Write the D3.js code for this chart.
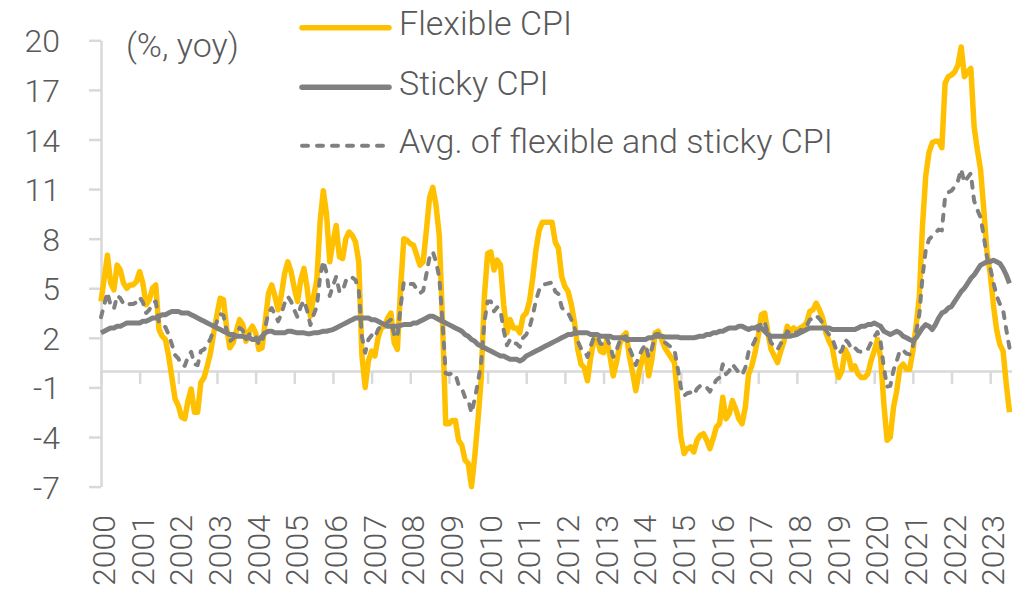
<!DOCTYPE html>
<html>
<head>
<meta charset="utf-8">
<script src="https://cdn.jsdelivr.net/npm/d3@7"></script>
<style>
  html, body { margin: 0; padding: 0; background: #fff; }
  svg { display: block; font-family: Roboto, "Open Sans", sans-serif; font-weight: 300; }
</style>
</head>
<body>
<svg id="chart" width="1012" height="592"></svg>
<script>
// monthly yoy %, Jan 2000 .. Jul 2023
const startYear = 2000;

const flexibleCpi = [
  4.2, 5.6, 7.0, 5.3, 4.9, 6.4, 6.1, 5.3, 5.0, 5.2, 5.2, 5.4,        // 2000
  6.0, 5.3, 4.0, 4.3, 5.0, 5.2, 2.5, 2.1, 1.9, 0.9, -0.4, -1.7,      // 2001
  -2.1, -2.8, -2.9, -1.8, -1.1, -2.5, -2.5, -0.7, -0.4, 0.3, 1.1, 2.3, // 2002
  3.4, 4.4, 4.3, 2.6, 1.4, 1.7, 2.4, 3.1, 2.8, 1.8, 2.4, 2.7,        // 2003
  2.3, 1.3, 1.4, 3.0, 4.7, 5.2, 4.5, 3.7, 4.6, 5.9, 6.6, 6.0,        // 2004
  5.0, 4.2, 5.5, 6.2, 5.0, 3.3, 4.5, 5.5, 9.0, 10.9, 9.5, 6.6,       // 2005
  7.8, 8.8, 6.9, 6.8, 8.0, 8.4, 8.2, 7.8, 6.6, 0.9, -1.0, 0.6,       // 2006
  1.2, 0.9, 2.0, 2.6, 2.7, 3.2, 3.5, 1.7, 1.3, 5.0, 8.0, 7.9,        // 2007
  7.7, 7.6, 7.0, 6.4, 6.6, 8.5, 10.5, 11.1, 10.0, 8.2, 3.0, -3.2,    // 2008
  -3.2, -3.0, -3.0, -4.2, -4.5, -5.4, -5.6, -7.0, -5.2, -3.0, -0.5, 4.5, // 2009
  7.1, 7.2, 6.1, 6.7, 6.4, 4.0, 2.3, 3.1, 2.6, 2.6, 2.3, 3.3,        // 2010
  3.5, 4.2, 5.6, 7.3, 8.5, 9.0, 9.0, 9.0, 9.0, 7.8, 7.4, 5.7,        // 2011
  5.1, 4.8, 4.0, 2.9, 1.3, 0.4, 0.2, -0.6, 0.8, 1.9, 2.0, 1.2,       // 2012
  1.1, 1.9, 0.9, -0.3, 0.5, 1.6, 2.1, 2.3, 0.9, -0.1, -1.2, -0.1,    // 2013
  0.7, 1.3, -0.3, 0.7, 2.3, 2.4, 1.9, 1.4, 1.1, 0.8, 0.5, -1.7,      // 2014
  -4.0, -5.0, -4.7, -4.6, -4.9, -4.2, -3.9, -3.8, -4.2, -4.7, -4.1, -3.4, // 2015
  -3.2, -1.6, -2.9, -2.6, -1.8, -2.3, -2.9, -3.2, -2.2, -0.2, 0.3, 1.1,  // 2016
  2.1, 3.4, 3.5, 2.3, 1.3, 0.9, 0.5, 1.2, 1.8, 2.7, 2.4, 2.6,        // 2017
  2.4, 2.6, 2.7, 2.9, 3.6, 3.7, 4.1, 3.7, 3.2, 2.3, 1.8, 1.4,        // 2018
  0.3, -0.4, 0.0, 1.3, 0.9, 0.1, 0.3, -0.2, -0.4, -0.4, -0.2, 0.6,   // 2019
  1.2, 1.9, 0.8, -2.0, -4.2, -4.0, -2.2, -1.2, 0.2, 0.4, 0.1, 0.1,   // 2020
  1.2, 2.7, 4.5, 8.8, 11.8, 13.2, 13.8, 13.9, 13.9, 13.5, 17.4, 17.8, // 2021
  17.9, 18.1, 18.5, 19.6, 17.8, 18.1, 18.3, 14.8, 13.4, 12.2, 9.8, 7.2, // 2022
  5.9, 4.0, 2.5, 1.6, 1.2, -0.8, -2.5                                // 2023
];

const stickyCpi = [
  2.3, 2.4, 2.5, 2.6, 2.6, 2.7, 2.7, 2.8, 2.9, 2.9, 2.9, 2.9,
  2.9, 3.0, 3.0, 3.1, 3.2, 3.2, 3.3, 3.4, 3.4, 3.5, 3.6, 3.6,
  3.6, 3.5, 3.5, 3.5, 3.4, 3.3, 3.2, 3.1, 3.0, 2.9, 2.8, 2.7,
  2.6, 2.5, 2.4, 2.3, 2.2, 2.2, 2.1, 2.1, 2.1, 2.0, 2.0, 1.9,
  1.9, 1.9, 2.1, 2.3, 2.4, 2.4, 2.3, 2.3, 2.3, 2.3, 2.4, 2.4,
  2.35, 2.3, 2.3, 2.3, 2.25, 2.25, 2.3, 2.3, 2.35, 2.4, 2.4, 2.45,
  2.5, 2.6, 2.7, 2.8, 2.9, 3.0, 3.1, 3.2, 3.2, 3.2, 3.2, 3.2,
  3.1, 3.1, 3.0, 2.9, 2.8, 2.7, 2.7, 2.7, 2.7, 2.75, 2.8, 2.8,
  2.8, 2.9, 2.9, 3.0, 3.1, 3.2, 3.3, 3.3, 3.2, 3.1, 3.0, 2.9,
  2.8, 2.7, 2.6, 2.5, 2.4, 2.2, 2.1, 1.9, 1.8, 1.6, 1.5, 1.4,
  1.3, 1.2, 1.1, 1.0, 0.9, 0.9, 0.8, 0.7, 0.7, 0.7, 0.6, 0.7,
  0.9, 1.0, 1.1, 1.2, 1.3, 1.4, 1.5, 1.6, 1.7, 1.8, 1.9, 2.0,
  2.1, 2.2, 2.2, 2.3, 2.3, 2.3, 2.3, 2.3, 2.2, 2.2, 2.2, 2.1,
  2.1, 2.1, 2.1, 2.0, 2.0, 2.0, 2.0, 1.9, 1.9, 1.9, 1.9, 1.9,
  1.9, 1.9, 2.0, 2.0, 2.1, 2.1, 2.1, 2.05, 2.05, 2.05, 2.05, 2.05,
  2.0, 2.0, 2.0, 2.0, 2.0, 2.05, 2.1, 2.1, 2.2, 2.2, 2.3, 2.3,
  2.4, 2.4, 2.5, 2.6, 2.6, 2.6, 2.7, 2.7, 2.6, 2.5, 2.6, 2.6,
  2.7, 2.6, 2.4, 2.2, 2.1, 2.1, 2.1, 2.1, 2.1, 2.1, 2.1, 2.15,
  2.2, 2.3, 2.4, 2.5, 2.6, 2.6, 2.6, 2.6, 2.6, 2.6, 2.6, 2.5,
  2.5, 2.5, 2.5, 2.5, 2.5, 2.5, 2.5, 2.6, 2.7, 2.7, 2.8, 2.8,
  2.9, 2.8, 2.7, 2.4, 2.3, 2.2, 2.3, 2.4, 2.3, 2.1, 2.0, 1.9,
  1.8, 2.0, 2.3, 2.6, 2.8, 2.7, 2.5, 2.8, 3.2, 3.5, 3.6, 3.8,
  3.9, 4.2, 4.5, 4.8, 5.0, 5.3, 5.6, 5.8, 6.1, 6.4, 6.5, 6.6,
  6.6, 6.7, 6.6, 6.5, 6.2, 5.8, 5.3
];

const avgCpi = [
  3.25, 4.0, 4.75, 3.95, 3.75, 4.55, 4.4, 4.05, 3.95, 4.05, 4.05, 4.15,
  4.45, 4.15, 3.5, 3.7, 4.1, 4.2, 2.9, 2.75, 2.65, 2.2, 1.6, 0.95,
  0.75, 0.35, 0.3, 0.85, 1.15, 0.4, 0.35, 1.2, 1.3, 1.6, 1.95, 2.5,
  3.0, 3.45, 3.35, 2.45, 1.8, 1.95, 2.25, 2.6, 2.45, 1.9, 2.2, 2.3,
  2.1, 1.6, 1.75, 2.65, 3.55, 3.8, 3.4, 3.0, 3.45, 4.1, 4.5, 4.2,
  3.68, 3.25, 3.9, 4.25, 3.63, 2.78, 3.4, 3.9, 5.68, 6.65, 5.95, 4.53,
  5.15, 5.7, 4.8, 4.8, 5.45, 5.7, 5.65, 5.5, 4.9, 2.05, 1.1, 1.9,
  2.15, 2.0, 2.5, 2.75, 2.75, 2.95, 3.1, 2.2, 2.0, 3.88, 5.4, 5.35,
  5.25, 5.25, 4.95, 4.7, 4.85, 5.85, 6.9, 7.2, 6.6, 5.65, 3.0, -0.15,
  -0.2, -0.15, -0.2, -0.85, -1.05, -1.6, -1.75, -2.55, -1.7, -0.7, 0.5, 2.95,
  4.2, 4.2, 3.6, 3.85, 3.65, 2.45, 1.55, 1.9, 1.65, 1.65, 1.45, 2.0,
  2.2, 2.6, 3.35, 4.25, 4.9, 5.2, 5.25, 5.3, 5.35, 4.8, 4.65, 3.85,
  3.6, 3.5, 3.1, 2.6, 1.8, 1.35, 1.25, 0.85, 1.5, 2.05, 2.1, 1.65,
  1.6, 2.0, 1.5, 0.85, 1.25, 1.8, 2.05, 2.1, 1.4, 0.9, 0.35, 0.9,
  1.3, 1.6, 0.85, 1.35, 2.2, 2.25, 2.0, 1.73, 1.58, 1.43, 1.28, 0.18,
  -1.0, -1.5, -1.35, -1.3, -1.45, -1.08, -0.9, -0.85, -1.0, -1.25, -0.9, -0.55,
  -0.4, 0.4, -0.2, 0.0, 0.4, 0.15, -0.1, -0.25, 0.2, 1.15, 1.45, 1.85,
  2.4, 3.0, 2.95, 2.25, 1.7, 1.5, 1.3, 1.65, 1.95, 2.4, 2.25, 2.38,
  2.3, 2.45, 2.55, 2.7, 3.1, 3.15, 3.35, 3.15, 2.9, 2.45, 2.2, 1.95,
  1.4, 1.05, 1.25, 1.9, 1.7, 1.3, 1.4, 1.2, 1.15, 1.15, 1.3, 1.7,
  2.05, 2.35, 1.75, 0.2, -0.95, -0.9, 0.05, 0.6, 1.25, 1.25, 1.05, 1.0,
  1.5, 2.35, 3.4, 5.7, 7.3, 7.95, 8.15, 8.35, 8.55, 8.5, 10.5, 10.8,
  10.9, 11.15, 11.5, 12.2, 11.4, 11.7, 11.95, 10.3, 9.75, 9.3, 8.15, 6.9,
  6.25, 5.35, 4.55, 4.05, 3.7, 2.5, 1.4
];

const yearTicks = d3.range(2000, 2024);
const yTicks = [-7, -4, -1, 2, 5, 8, 11, 14, 17, 20];
const seriesNames = ["Flexible CPI", "Sticky CPI", "Avg. of flexible and sticky CPI"];
const unitLabel = "(%, yoy)";

const textColor = "#595959";
const axisColor = "#d9d9d9";

const svg = d3.select("#chart");

const x = d3.scaleLinear()
  .domain([2000, 2024])
  .range([101, 101 + 24 * 38.66]);

const y = d3.scaleLinear()
  .domain([-7, 20])
  .range([486.6, 40.3]);

// y axis, plain hyphen for negatives like the source
const yAxis = svg.append("g")
  .attr("transform", "translate(" + x(2000) + ",0)")
  .call(d3.axisLeft(y).tickValues(yTicks).tickSize(12).tickSizeOuter(0).tickPadding(29)
    .tickFormat(function (d) { return String(d); }));

yAxis.select(".domain").attr("stroke", axisColor).attr("stroke-width", 2.5);
yAxis.selectAll(".tick line").attr("stroke", axisColor).attr("stroke-width", 2.5);
yAxis.selectAll(".tick text")
  .attr("fill", textColor)
  .attr("font-size", 32)
  .attr("font-family", "Roboto, sans-serif")
  .attr("dy", "0.36em");

// x axis on zero line
const xAxis = svg.append("g")
  .attr("transform", "translate(0," + y(0) + ")")
  .call(d3.axisBottom(x).tickValues(yearTicks).tickSize(13).tickSizeOuter(0)
    .tickFormat(function (d) { return String(d); }));

xAxis.select(".domain").attr("stroke", axisColor).attr("stroke-width", 2.5);
xAxis.selectAll(".tick line").attr("stroke", axisColor).attr("stroke-width", 2.5);
xAxis.selectAll(".tick text")
  .attr("fill", textColor)
  .attr("font-size", 32)
  .attr("font-family", "Roboto, sans-serif")
  .attr("transform", "rotate(-90)")
  .attr("text-anchor", "end")
  .attr("x", -(515 - y(0)))
  .attr("y", 2)
  .attr("dy", "0.36em");

svg.append("text")
  .attr("x", 126)
  .attr("y", 57)
  .attr("fill", textColor)
  .attr("font-size", 34)
  .text(unitLabel);

// series
const line = d3.line()
  .x(function (d, i) { return x(startYear + i / 12); })
  .y(function (d) { return y(d); });

const series = [
  {values: flexibleCpi, color: "#ffc000", width: 5.5, dash: null},
  {values: stickyCpi, color: "#808080", width: 5, dash: null},
  {values: avgCpi, color: "#808080", width: 4, dash: "6,9"}
];

series.forEach(function (s) {
  svg.append("path")
    .datum(s.values)
    .attr("fill", "none")
    .attr("stroke", s.color)
    .attr("stroke-width", s.width)
    .attr("stroke-linejoin", "round")
    .attr("stroke-linecap", s.dash ? "round" : "butt")
    .attr("stroke-dasharray", s.dash)
    .attr("d", line);
});

// legend
const legendY = [27.7, 87.3, 145.7];
const legend = svg.append("g");
series.forEach(function (s, i) {
  legend.append("line")
    .attr("x1", 302).attr("x2", 389)
    .attr("y1", legendY[i]).attr("y2", legendY[i])
    .attr("stroke", s.color)
    .attr("stroke-width", s.dash ? 4 : 5.5)
    .attr("stroke-linecap", "round")
    .attr("stroke-dasharray", s.dash);
  legend.append("text")
    .attr("x", 399)
    .attr("y", legendY[i] + 7.5)
    .attr("fill", textColor)
    .attr("font-size", 34)
    .text(seriesNames[i]);
});
</script>
</body>
</html>
